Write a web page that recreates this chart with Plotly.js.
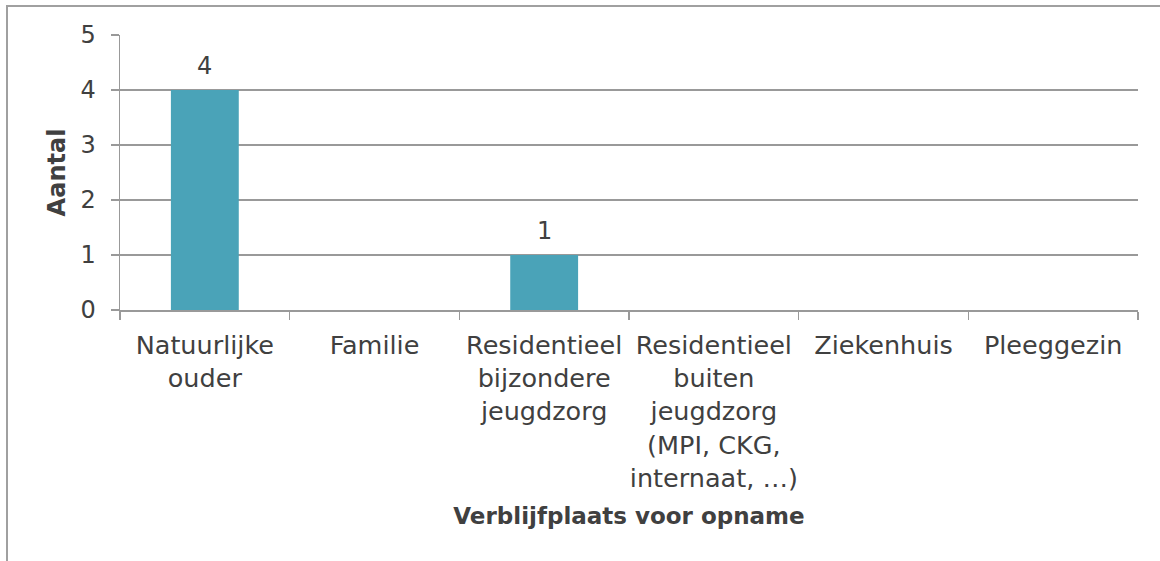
<!DOCTYPE html>
<html><head><meta charset="utf-8">
<script src="https://cdn.plot.ly/plotly-3.0.1.min.js"></script>
<style>
html,body{margin:0;padding:0;overflow:hidden;background:#fff;width:1160px;height:561px;}
#frame{position:absolute;left:6px;top:5px;width:1200px;height:600px;border:2px solid #a0a0a0;}
#chart{position:absolute;left:0;top:0;width:1160px;height:561px;}
</style></head>
<body>
<div id="frame"></div>
<div id="chart"></div>
<script>
var categories = [
  "Natuurlijke<br>ouder",
  "Familie",
  "Residentieel<br>bijzondere<br>jeugdzorg",
  "Residentieel<br>buiten<br>jeugdzorg<br>(MPI, CKG,<br>internaat, …)",
  "Ziekenhuis",
  "Pleeggezin"
];
var values = [4, null, 1, null, null, null];
var labels = ["4", "", "1", "", "", ""];
var yTicks = [0, 1, 2, 3, 4, 5];

var fontFam = "'DejaVu Sans', sans-serif";
var textCol = "#404040";

var annotations = [];
values.forEach(function (v, i) {
  if (v !== null && labels[i] !== "") {
    annotations.push({
      x: categories[i], y: v, xref: "x", yref: "y",
      text: labels[i], showarrow: false,
      yanchor: "bottom", yshift: 8,
      font: {family: fontFam, size: 24, color: textCol}
    });
  }
});

Plotly.newPlot("chart", [{
  type: "bar",
  x: categories,
  y: values,
  marker: {color: "#4aa3b8"},
  width: 0.4,
  hoverinfo: "skip"
}], {
  width: 1160, height: 561,
  paper_bgcolor: "rgba(0,0,0,0)",
  plot_bgcolor: "rgba(0,0,0,0)",
  margin: {l: 120, r: 22, t: 35, b: 251},
  showlegend: false,
  font: {family: fontFam, size: 24, color: textCol},
  annotations: annotations,
  xaxis: {
    type: "category",
    tickson: "boundaries",
    ticks: "outside", ticklen: 8, tickcolor: "#999", tickwidth: 1.5,
    showline: true, linecolor: "#999", linewidth: 1.5,
    showgrid: false, zeroline: false,
    tickfont: {family: fontFam, size: 25.5, color: textCol},
    ticklabelstandoff: 12,
    tickangle: 0,
    title: {text: "<b>Verblijfplaats voor opname</b>", font: {family: fontFam, size: 23, color: textCol}, standoff: 16},
    automargin: false
  },
  yaxis: {
    range: [0, 5],
    tickvals: yTicks,
    ticktext: yTicks.map(String),
    ticks: "outside", ticklen: 8, tickcolor: "#999", tickwidth: 1.5,
    showline: true, linecolor: "#999", linewidth: 1.5,
    showgrid: true, gridcolor: "#999", gridwidth: 1.5,
    zeroline: false,
    tickfont: {family: fontFam, size: 24, color: textCol},
    ticklabelstandoff: 10,
    title: {text: "<b>Aantal</b>", font: {family: fontFam, size: 24, color: textCol}, standoff: 8},
    automargin: false
  }
}, {displayModeBar: false, staticPlot: true});
</script>
</body></html>
